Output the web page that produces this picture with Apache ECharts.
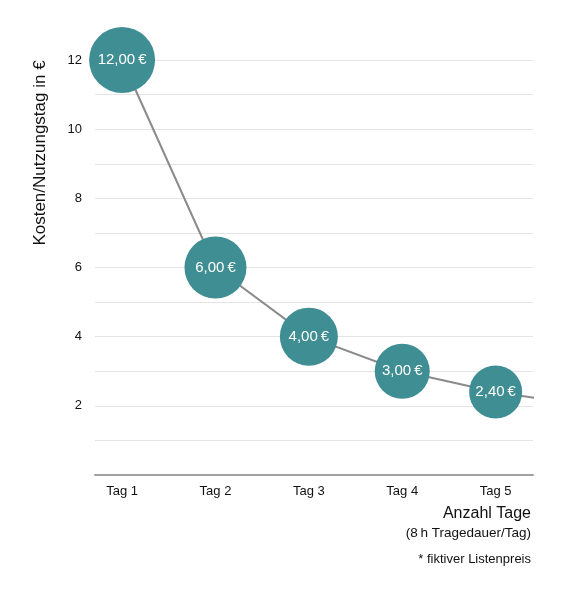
<!DOCTYPE html>
<html>
<head>
<meta charset="utf-8">
<script src="https://cdn.jsdelivr.net/npm/echarts@6/dist/echarts.min.js"></script>
<style>
html,body{margin:0;padding:0;background:#fff;}
#chart{width:563px;height:599px;}
</style>
</head>
<body>
<div id="chart"></div>
<script>
// Data
var categories = ['Tag 1', 'Tag 2', 'Tag 3', 'Tag 4', 'Tag 5', 'Tag 6'];
var costPerDay = [12.00, 6.00, 4.00, 3.00, 2.40, 2.00];
var yTickLabels = ['2', '4', '6', '8', '10', '12'];
var yAxisTitle = 'Kosten/Nutzungstag in €';
var xAxisTitle = 'Anzahl Tage';
var xAxisSubtitle = '(8\u2009h Tragedauer/Tag)';
var footnote = '* fiktiver Listenpreis';

var symbolSizes = [66, 62, 58, 55, 53, 52];
var FONT = '"Liberation Sans", Arial, Helvetica, sans-serif';

var seriesData = costPerDay.map(function (v, i) { return [i + 1, v]; });

var chart = echarts.init(document.getElementById('chart'));
chart.setOption({
  animation: false,
  backgroundColor: '#ffffff',
  grid: { left: 95, right: 30, top: 60, bottom: 124 },
  xAxis: {
    type: 'value',
    min: 0.71,
    max: 5.40,
    splitLine: { show: false },
    axisLine: { show: true, lineStyle: { color: '#a0a0a0', width: 2 } },
    axisTick: { show: false },
    axisLabel: {
      customValues: [1, 2, 3, 4, 5],
      color: '#111',
      fontFamily: FONT,
      fontSize: 13,
      margin: 10,
      formatter: function (v) {
        var i = Math.round(v) - 1;
        return (Math.abs(v - Math.round(v)) < 1e-6 && categories[i]) ? categories[i] : '';
      }
    }
  },
  yAxis: {
    type: 'value',
    min: 0,
    max: 12,
    interval: 1,
    axisLine: { show: false },
    axisTick: { show: false },
    splitLine: { show: true, lineStyle: { color: '#e4e4e4', width: 1 } },
    axisLabel: {
      color: '#111',
      fontFamily: FONT,
      fontSize: 13,
      margin: 13,
      formatter: function (v) {
        var s = String(v);
        return yTickLabels.indexOf(s) >= 0 ? s : '';
      }
    }
  },
  series: [{
    type: 'line',
    data: seriesData,
    clip: true,
    symbol: 'circle',
    symbolSize: function (val, p) { return symbolSizes[p.dataIndex]; },
    itemStyle: { color: '#3f8e93', borderWidth: 0 },
    lineStyle: { color: '#8a8a8a', width: 2 },
    z: 3,
    label: {
      show: true,
      position: 'inside',
      color: '#ffffff',
      fontFamily: FONT,
      fontSize: 15,
      formatter: function (p) {
        return p.value[1].toFixed(2).replace('.', ',') + '\u2009€';
      }
    }
  }],
  graphic: [
    {
      type: 'text',
      x: 40, y: 153,
      rotation: Math.PI / 2,
      style: {
        text: yAxisTitle, fill: '#111', font: '17px ' + FONT,
        textAlign: 'center', textVerticalAlign: 'middle'
      }
    },
    {
      type: 'text',
      right: 32, top: 506,
      style: { text: xAxisTitle, fill: '#111', font: '16px ' + FONT }
    },
    {
      type: 'text',
      right: 32, top: 526,
      style: { text: xAxisSubtitle, fill: '#111', font: '13.5px ' + FONT }
    },
    {
      type: 'text',
      right: 32, top: 553,
      style: { text: footnote, fill: '#111', font: '13px ' + FONT }
    }
  ]
});
</script>
</body>
</html>
